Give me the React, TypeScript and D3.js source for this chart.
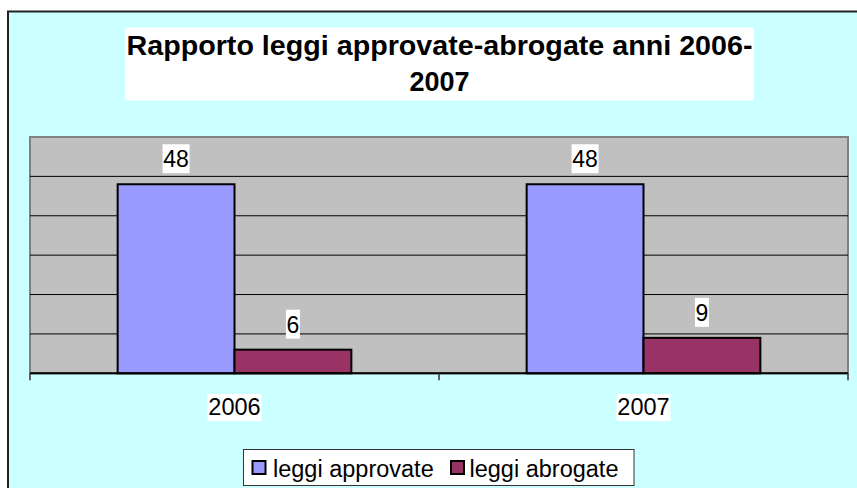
import React from "react";
import * as d3 from "d3";

const categories = ["2006", "2007"];
const seriesNames = ["leggi approvate", "leggi abrogate"];
const approvate = [48, 48];
const abrogate = [6, 9];
const yTicks = [0, 10, 20, 30, 40, 50, 60];
const titleLines = ["Rapporto leggi approvate-abrogate anni 2006-", "2007"];
const colors = ["#9999FF", "#993366"];

const FONT = "'Liberation Sans', Arial, sans-serif";

export default function App() {
  const W = 857, H = 488;
  const plot = { left: 30, right: 848, top: 137, bottom: 373.3 };
  const x0 = d3.scaleBand<string>().domain(categories).range([plot.left, plot.right]).padding(0);
  const x1 = d3.scaleBand<string>().domain(seriesNames).range([0, x0.bandwidth()]).paddingInner(0).paddingOuter(0.75);
  const y = d3.scaleLinear().domain([0, 60]).range([plot.bottom, plot.top]);
  const seriesValues = [approvate, abrogate];

  return (
    <div style={{ position: "absolute", left: 0, top: 0 }}>
      <svg width={W} height={H} style={{ display: "block" }} fontFamily={FONT}>
        <rect x={0} y={0} width={W} height={H} fill="#ffffff" />
        <rect x={8} y={11.5} width={870} height={500} fill="#CCFFFF" stroke="#222" strokeWidth={2} />
        {/* title */}
        <rect x={125} y={27.5} width={629} height={73} fill="#ffffff" />
        {titleLines.map((t, i) => (
          <text
            key={i}
            x={439.5}
            y={55 + i * 36}
            textAnchor="middle"
            fontSize={27}
            fontWeight="bold"
            fill="#000"
            {...(i === 0 ? { textLength: 626, lengthAdjust: "spacingAndGlyphs" } : {})}
          >
            {t}
          </text>
        ))}
        {/* plot area */}
        <rect x={plot.left} y={plot.top} width={plot.right - plot.left} height={plot.bottom - plot.top} fill="#C0C0C0" stroke="#808080" strokeWidth={2} />
        {yTicks.filter((v) => v > 0 && v < 60).map((v) => (
          <line key={v} x1={plot.left} x2={plot.right} y1={y(v)} y2={y(v)} stroke="#000" strokeWidth={1} />
        ))}
        {/* bars */}
        {categories.map((c, ci) => (
          <g key={c} transform={`translate(${x0(c)},0)`}>
            {seriesNames.map((s, si) => {
              const v = seriesValues[si][ci];
              const bx = x1(s)!;
              const bw = x1.bandwidth();
              const lw = String(v).length * 13 + 1;
              return (
                <g key={s}>
                  <rect x={bx} y={y(v)} width={bw} height={y(0) - y(v)} fill={colors[si]} stroke="#000" strokeWidth={2} />
                  <rect x={bx + bw / 2 - lw / 2} y={y(v) - 40} width={lw} height={29} fill="#fff" />
                  <text x={bx + bw / 2} y={y(v) - 17} textAnchor="middle" fontSize={23} fill="#000">
                    {v}
                  </text>
                </g>
              );
            })}
          </g>
        ))}
        {/* baseline & ticks */}
        <line x1={plot.left} x2={plot.right} y1={plot.bottom} y2={plot.bottom} stroke="#000" strokeWidth={2} />
        {[plot.left, ...categories.map((c) => x0(c)! + x0.bandwidth())].map((tx, i) => (
          <line key={i} x1={tx} x2={tx} y1={plot.bottom} y2={plot.bottom + 7} stroke="#333" strokeWidth={1.5} />
        ))}
        {/* category labels */}
        {categories.map((c) => {
          const cx = x0(c)! + x0.bandwidth() / 2;
          return (
            <g key={c}>
              <rect x={cx - 27} y={394} width={54} height={27} fill="#fff" />
              <text x={cx} y={415} textAnchor="middle" fontSize={23.5} fill="#000">
                {c}
              </text>
            </g>
          );
        })}
        {/* legend */}
        <rect x={243.5} y={449.5} width={390.5} height={36} fill="#fff" stroke="#333" strokeWidth={1} />
        {seriesNames.map((s, i) => {
          const lx = i === 0 ? 252.5 : 451;
          return (
            <g key={s}>
              <rect x={lx} y={461} width={13} height={13} fill={colors[i]} stroke="#000" strokeWidth={2} />
              <text x={i === 0 ? 273 : 469.5} y={476.5} fontSize={23.5} fill="#000">
                {s}
              </text>
            </g>
          );
        })}
      </svg>
    </div>
  );
}
